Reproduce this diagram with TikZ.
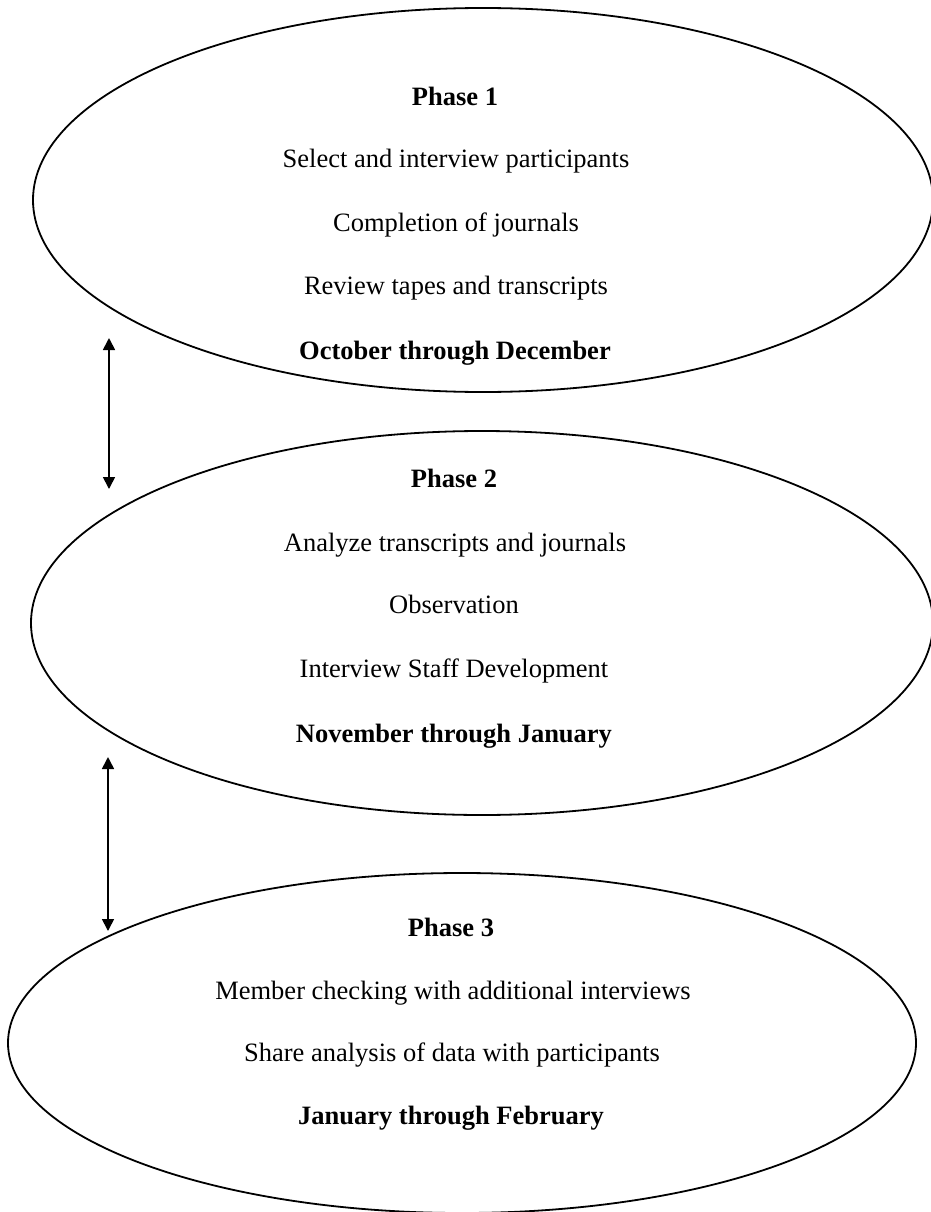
\documentclass[tikz,border=0pt]{standalone}
\usepackage{fontspec}
\setmainfont{Liberation Serif}
\usetikzlibrary{shapes.geometric,arrows.meta}
\begin{document}
\begin{tikzpicture}[x=1pt,y=-1pt,
  phase/.style={draw=black,line width=1.8pt,ellipse,inner sep=0pt},
  txt/.style={anchor=base,inner sep=0pt,font=\fontsize{26.5}{30}\selectfont},
  btxt/.style={txt,font=\fontsize{26.5}{30}\selectfont\bfseries},
  link/.style={line width=1.7pt,{Triangle[width=12pt,length=12pt]}-{Triangle[width=12pt,length=12pt]}}]
\useasboundingbox (0,0) rectangle (931,1212);
\clip (0,0) rectangle (931,1212);
\node[phase,minimum width=900pt,minimum height=384pt] (e1) at (483,200) {};
\node[phase,minimum width=902pt,minimum height=384pt] (e2) at (482,623) {};
\node[phase,minimum width=908pt,minimum height=340pt] (e3) at (462,1043) {};

\node[btxt] (p1) at (455,106) {Phase 1};
\node[txt] (p1a) at (456,167) {Select and interview participants};
\node[txt] (p1b) at (456,231) {Completion of journals};
\node[txt] (p1c) at (456,294) {Review tapes and transcripts};
\node[btxt] (p1d) at (455,359) {October through December};

\node[btxt] (p2) at (454,487) {Phase 2};
\node[txt] (p2a) at (455,551) {Analyze transcripts and journals};
\node[txt] (p2b) at (454,613) {Observation};
\node[txt] (p2c) at (454,677) {Interview Staff Development};
\node[btxt] (p2d) at (454,742) {November through January};

\node[btxt] (p3) at (451,936) {Phase 3};
\node[txt] (p3a) at (453,999) {Member checking with additional interviews};
\node[txt] (p3b) at (452,1061) {Share analysis of data with participants};
\node[btxt] (p3d) at (451,1124) {January through February};

\coordinate (a1t) at (109,338);
\coordinate (a1b) at (109,489);
\coordinate (a2t) at (108,757);
\coordinate (a2b) at (108,931);
\draw[link] (a1t) -- (a1b);
\draw[link] (a2t) -- (a2b);
\end{tikzpicture}
\end{document}
